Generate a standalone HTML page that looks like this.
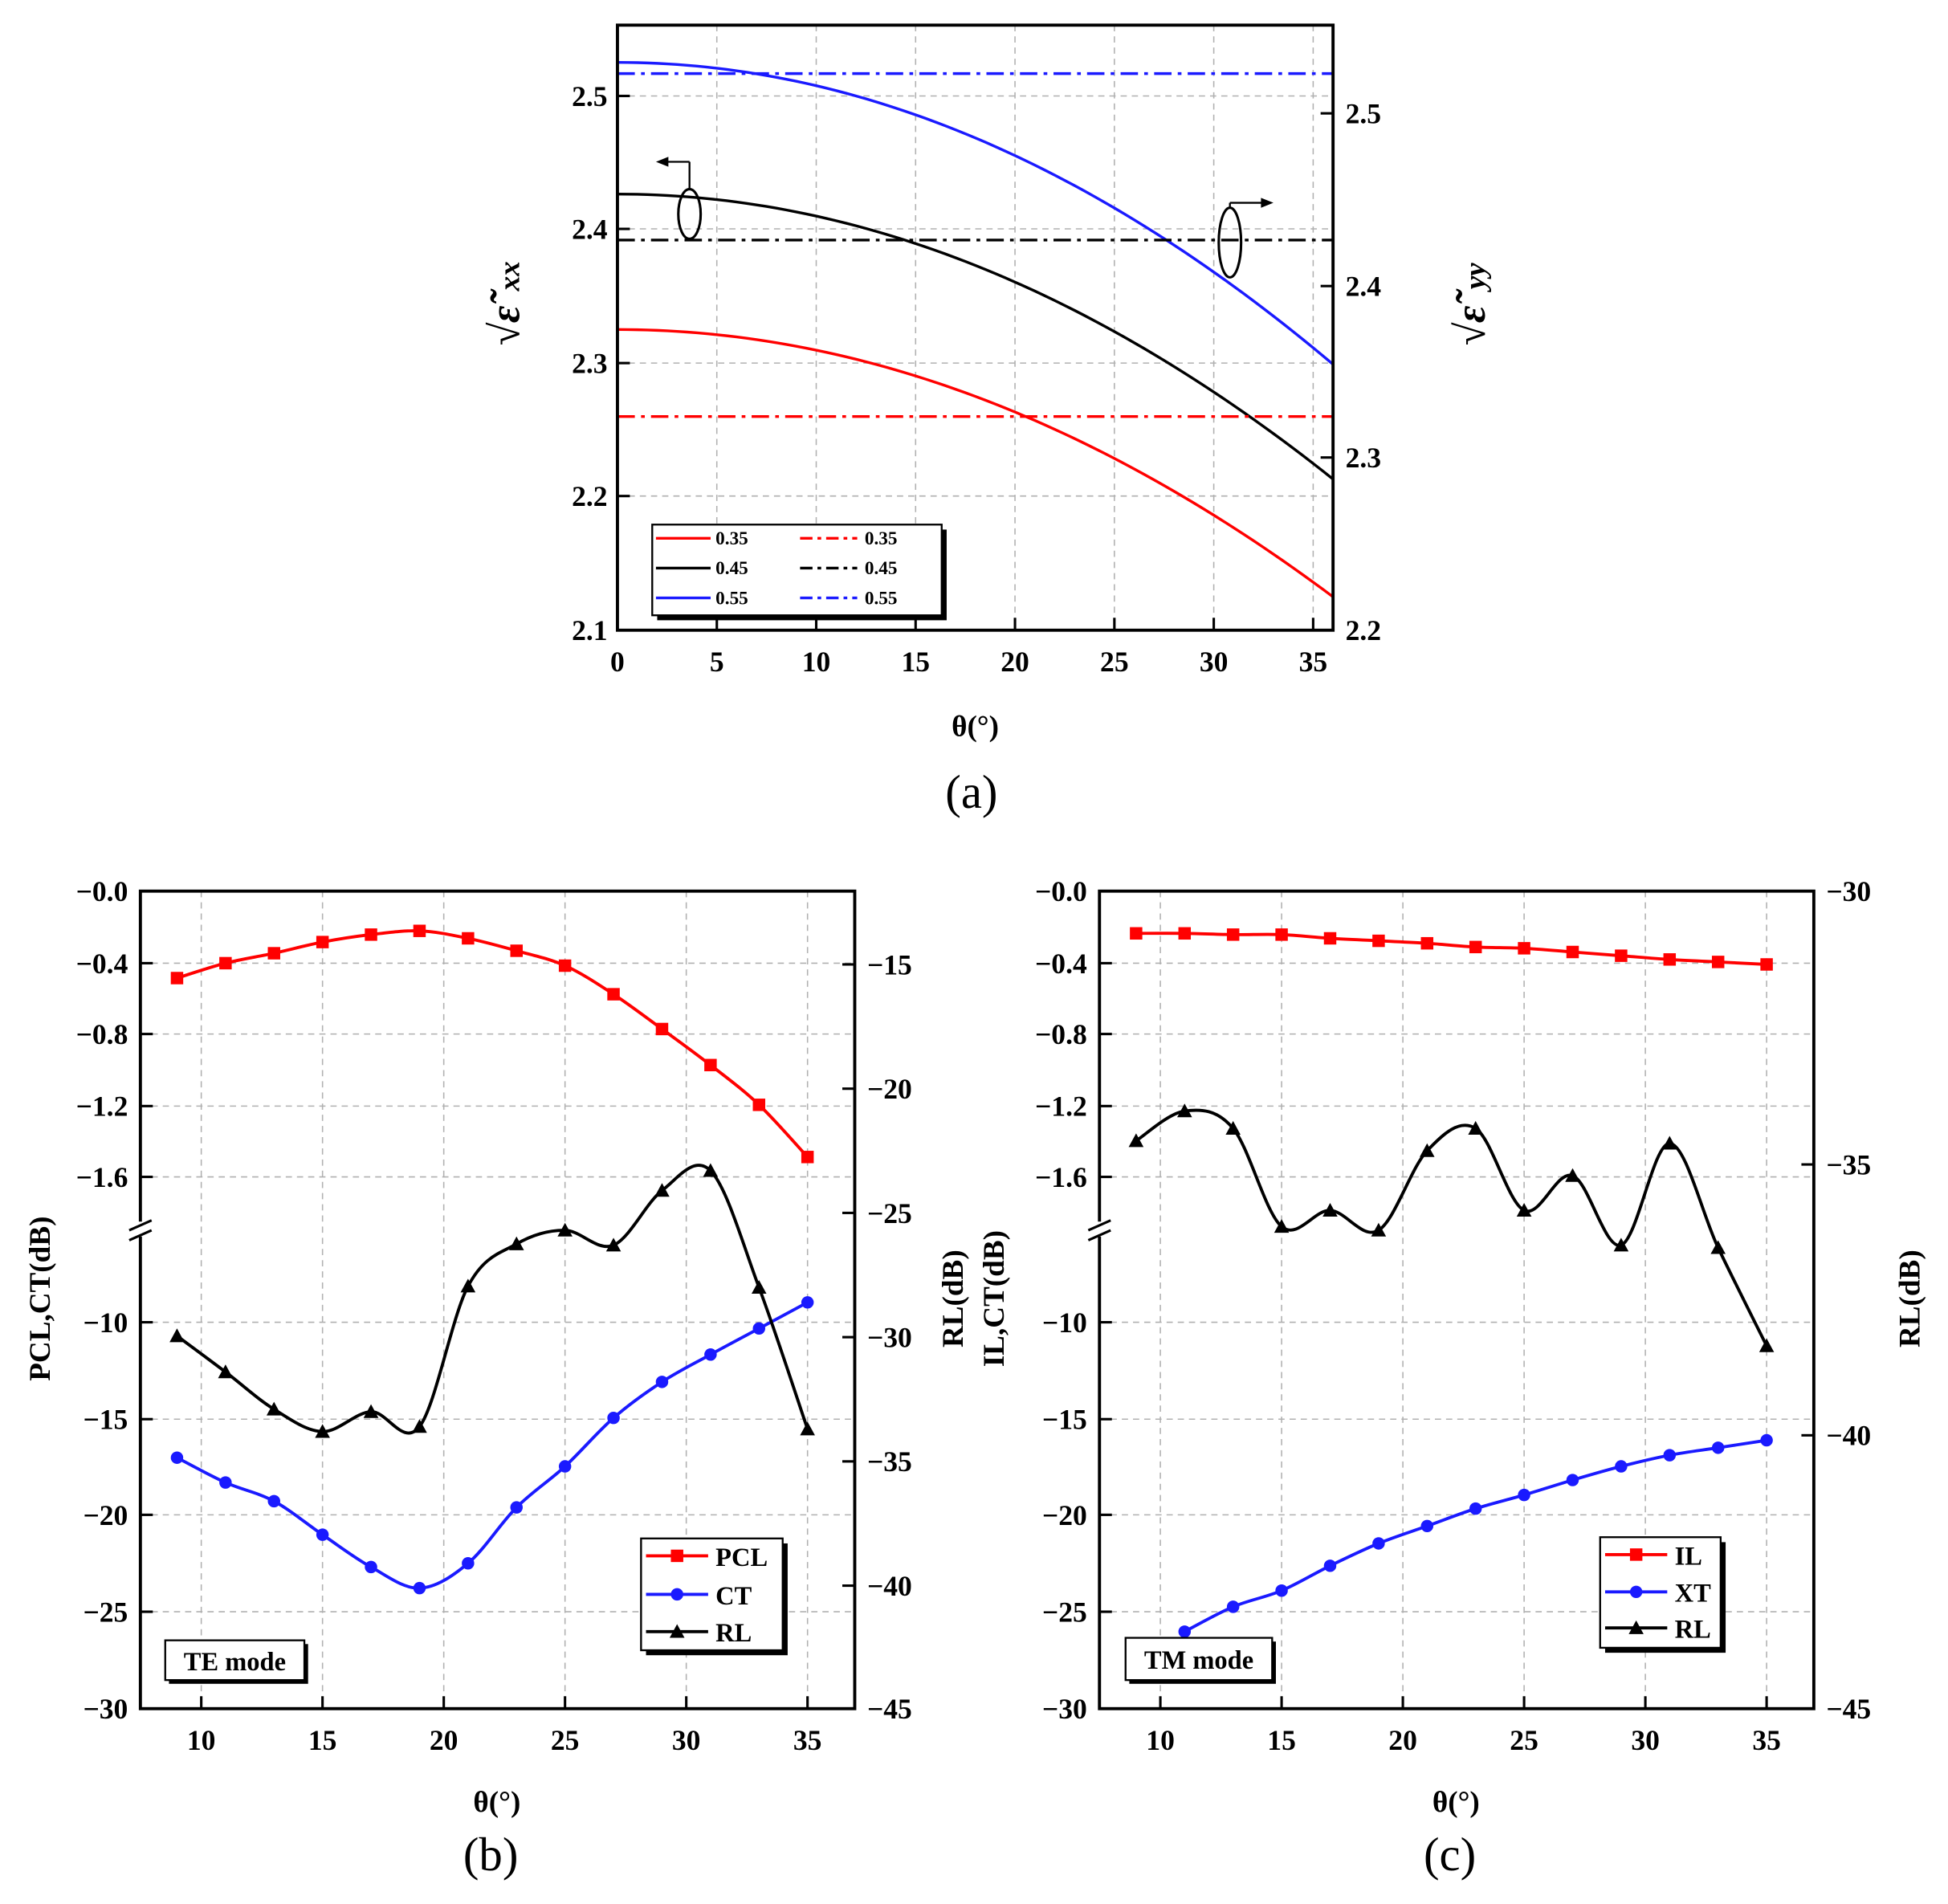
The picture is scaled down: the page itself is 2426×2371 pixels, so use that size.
<!DOCTYPE html>
<html><head><meta charset="utf-8">
<style>
html,body{margin:0;padding:0;background:#fff;}
svg{display:block;}
text{font-family:"Liberation Serif",serif;font-weight:bold;fill:#000;}
</style></head>
<body>
<svg id="s" width="2426" height="2371" viewBox="0 0 1568 1532" xmlns="http://www.w3.org/2000/svg">
<defs>
<clipPath id="ca"><rect x="497" y="20" width="576" height="487"/></clipPath>
<clipPath id="cb"><rect x="113" y="717" width="575" height="658"/></clipPath>
<clipPath id="cc"><rect x="885" y="717" width="575" height="658"/></clipPath>
</defs>
<g id="g"></g>
</svg>
<script>
const NS="http://www.w3.org/2000/svg";const G=document.getElementById('g');
function el(t,a,txt,p){const e=document.createElementNS(NS,t);for(const k in a)e.setAttribute(k,a[k]);if(txt!=null)e.textContent=txt;(p||G).appendChild(e);return e;}
function line(x1,y1,x2,y2,st,w,da,p){return el('line',{x1,y1,x2,y2,stroke:st,'stroke-width':w||1,'stroke-dasharray':da||'none'},null,p);}
function txt(x,y,s,size,anchor,extra){const a={x,y,'font-size':size,'text-anchor':anchor||'middle'};Object.assign(a,extra||{});return el('text',a,s);}
function smooth(pts){let d='M'+pts[0][0]+','+pts[0][1];for(let i=0;i<pts.length-1;i++){const p0=pts[i-1]||pts[i],p1=pts[i],p2=pts[i+1],p3=pts[i+2]||p2;const c1=[p1[0]+(p2[0]-p0[0])/6,p1[1]+(p2[1]-p0[1])/6],c2=[p2[0]-(p3[0]-p1[0])/6,p2[1]-(p3[1]-p1[1])/6];d+=` C${c1[0]},${c1[1]} ${c2[0]},${c2[1]} ${p2[0]},${p2[1]}`;}return d;}
const GR='#b0b0b0';
const NORM={style:'font-weight:normal'};
// ===== Panel a =====
(function(){
const X=t=>497+t*16;
for(let t=5;t<=35;t+=5)line(X(t),20,X(t),507,GR,1,'5,4');
[77,184,292,399].forEach(y=>line(497,y,1073,y,GR,1,'5,4'));
const ga=el('g',{'clip-path':'url(#ca)'});
[[50,0.1875,'#1a1aff'],[156,0.177,'#000'],[265,0.166,'#f00']].forEach(([y0,k,c])=>{let d='';for(let t=0;t<=36.2;t+=0.5)d+=(t?'L':'M')+X(t)+','+(y0+k*t*t);el('path',{d,fill:'none',stroke:c,'stroke-width':2.2},null,ga);});
[[59,'#1a1aff'],[193,'#000'],[335,'#f00']].forEach(([y,c])=>line(497,y,1073,y,c,2.2,'14,5,3,5',ga));
el('rect',{x:497,y:20,width:576,height:487,fill:'none',stroke:'#000','stroke-width':2.5});
[[2.1,507],[2.2,399],[2.3,292],[2.4,184],[2.5,77]].forEach(([v,y])=>{line(497,y,507,y,'#000',2);txt(489,y+8,v.toFixed(1),23,'end');});
[[2.2,507],[2.3,368],[2.4,230],[2.5,91]].forEach(([v,y])=>{line(1063,y,1073,y,'#000',2);txt(1083,y+8,v.toFixed(1),23,'start');});
for(let t=0;t<=35;t+=5){line(X(t),497,X(t),507,'#000',2);txt(X(t),540,t,23);}
txt(785,592,'θ(°)',24);txt(782,650,'(a)',38,'middle',NORM);
txt(0,0,'√ε̃',34,'middle',{transform:'translate(418,262) rotate(-90)','font-style':'italic'});
txt(0,0,'xx',24,'middle',{transform:'translate(418,222) rotate(-90)','font-style':'italic'});
txt(0,0,'√ε̃',34,'middle',{transform:'translate(1195,262) rotate(-90)','font-style':'italic'});
txt(0,0,'yy',24,'middle',{transform:'translate(1195,222) rotate(-90)','font-style':'italic'});
el('ellipse',{cx:555,cy:172,rx:9,ry:20,fill:'none',stroke:'#000','stroke-width':2});
line(555,130,555,152,'#000',1.5);line(555,130,535,130,'#000',1.5);el('path',{d:'M528,130 L538,126 L538,134Z'});
el('ellipse',{cx:990,cy:195,rx:9,ry:28,fill:'none',stroke:'#000','stroke-width':2});
line(990,163,990,167,'#000',1.5);line(990,163,1018,163,'#000',1.5);el('path',{d:'M1025,163 L1015,159 L1015,167Z'});
el('rect',{x:529,y:426,width:233,height:73,fill:'#000'});
el('rect',{x:525,y:422,width:233,height:73,fill:'#fff',stroke:'#000','stroke-width':1.5});
[['0.35','#f00',433],['0.45','#000',457],['0.55','#1a1aff',481]].forEach(([s,c,y])=>{line(528,y,572,y,c,2.2);txt(576,y+5,s,15,'start');line(644,y,690,y,c,2.2,'10,4,3,4');txt(696,y+5,s,15,'start');});
})();
// ===== Panels b,c =====
function panel(o){
const {x0,x1,clip,right,series,leg,mode,ylab,rlab,lbl,thx}=o;
const y0=717,y1=1375;const X=t=>x0+49+(t-10)*19.52;
for(let t=10;t<=35;t+=5)line(X(t),y0,X(t),y1,GR,1,'5,4');
[775,832,890,947,1064,1142,1219,1297].forEach(y=>line(x0,y,x1,y,GR,1,'5,4'));
const g=el('g',{'clip-path':`url(#${clip})`});
series.forEach(s=>{const pts=s.y.map((y,i)=>[X(s.t0+2*i),y]);el('path',{d:smooth(pts),fill:'none',stroke:s.c,'stroke-width':2.5},null,g);
pts.forEach(([x,y])=>{if(s.m==='s')el('rect',{x:x-5,y:y-5,width:10,height:10,fill:s.c},null,g);else if(s.m==='c')el('circle',{cx:x,cy:y,r:5,fill:s.c},null,g);else el('path',{d:`M${x},${y-6} L${x+6},${y+5} L${x-6},${y+5}Z`,fill:s.c},null,g);});});
el('rect',{x:x0,y:y0,width:x1-x0,height:y1-y0,fill:'none',stroke:'#000','stroke-width':2.5});
el('rect',{x:x0-10,y:983,width:20,height:12,fill:'#fff'});
line(x0-9,990,x0+9,982,'#000',2);line(x0-9,998,x0+9,990,'#000',2);
[['−0.0',717],['−0.4',775],['−0.8',832],['−1.2',890],['−1.6',947],['−10',1064],['−15',1142],['−20',1219],['−25',1297],['−30',1375]].forEach(([s,y])=>{line(x0,y,x0+10,y,'#000',2);txt(x0-10,y+8,s,23,'end');});
right.forEach(([s,y])=>{line(x1-10,y,x1,y,'#000',2);txt(x1+10,y+8,s,23,'start');});
for(let t=10;t<=35;t+=5){line(X(t),y1-10,X(t),y1,'#000',2);txt(X(t),1408,t,23);}
txt(thx,1458,'θ(°)',24);txt(thx-5,1505,lbl,38,'middle',NORM);
txt(0,0,ylab[0],24,'middle',{transform:`translate(${ylab[1]},1045) rotate(-90)`});
txt(0,0,rlab[0],24,'middle',{transform:`translate(${rlab[1]},1045) rotate(-90)`});
const [lx,ly,lw,lh,ys]=leg;
el('rect',{x:lx+4,y:ly+4,width:lw,height:lh,fill:'#000'});
el('rect',{x:lx,y:ly,width:lw,height:lh,fill:'#fff',stroke:'#000','stroke-width':1.5});
series.forEach((s,i)=>{const y=ys[i],xm=lx+29;line(lx+4,y,lx+54,y,s.c,2.5);
if(s.m==='s')el('rect',{x:xm-5,y:y-5,width:10,height:10,fill:s.c});else if(s.m==='c')el('circle',{cx:xm,cy:y,r:5,fill:s.c});else el('path',{d:`M${xm},${y-6} L${xm+6},${y+5} L${xm-6},${y+5}Z`,fill:s.c});
txt(lx+60,y+8,s.n,21,'start');});
const [mx,my,mw,mh]=mode[1];
el('rect',{x:mx+3,y:my+3,width:mw,height:mh,fill:'#000'});
el('rect',{x:mx,y:my,width:mw,height:mh,fill:'#fff',stroke:'#000','stroke-width':1.5});
txt(mx+mw/2,my+mh/2+8,mode[0],21);
}
panel({x0:113,x1:688,clip:'cb',
right:[['−15',776],['−20',876],['−25',976],['−30',1076],['−35',1176],['−40',1276],['−45',1375]],
series:[{n:'PCL',c:'#f00',m:'s',t0:9,y:[787,775,767,758,752,749,755,765,777,800,828,857,889,931]},
{n:'CT',c:'#1a1aff',m:'c',t0:9,y:[1173,1193,1208,1235,1261,1278,1258,1213,1180,1141,1112,1090,1069,1048]},
{n:'RL',c:'#000',m:'t',t0:9,y:[1075,1104,1134,1152,1136,1148,1035,1001,990,1002,958,942,1036,1150]}],
leg:[516,1238,114,90,[1252,1283,1313]],mode:['TE mode',[133,1320,112,32]],
ylab:['PCL,CT(dB)',40],rlab:['RL(dB)',775],lbl:'(b)',thx:400});
panel({x0:885,x1:1460,clip:'cc',
right:[['−30',717],['−35',937],['−40',1155],['−45',1375]],
series:[{n:'IL',c:'#f00',m:'s',t0:9,y:[751,751,752,752,755,757,759,762,763,766,769,772,774,776]},
{n:'XT',c:'#1a1aff',m:'c',t0:11,y:[1313,1293,1280,1260,1242,1228,1214,1203,1191,1180,1171,1165,1159]},
{n:'RL',c:'#000',m:'t',t0:9,y:[918,894,908,987,974,990,926,908,974,946,1002,920,1004,1083]}],
leg:[1288,1237,97,89,[1251,1281,1310]],mode:['TM mode',[906,1318,118,34]],
ylab:['IL,CT(dB)',808],rlab:['RL(dB)',1545],lbl:'(c)',thx:1172});
</script>
</body></html>
